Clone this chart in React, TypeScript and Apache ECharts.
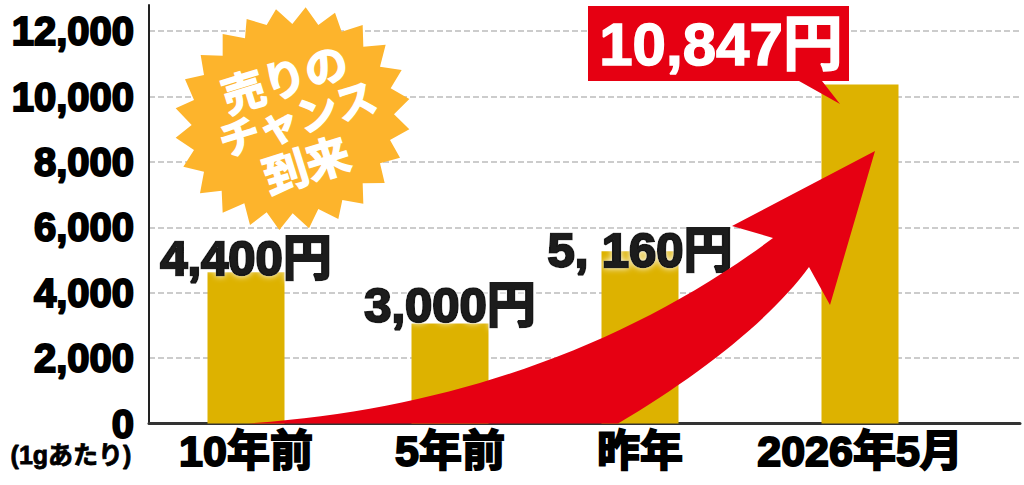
import React, { useEffect, useRef } from "react";
import * as echarts from "echarts";

// Category slots along a 0..871 horizontal scale (the bars are not evenly spaced in the picture)
const categories = ["10年前", "5年前", "昨年", "2026年5月"];
const slots = [97, 301, 491, 711];
const barValues = [4630, 3060, 5270, 10370];
const valueLabels = ["4,400円", "3,000円", "5, 160円", "10,847円"];
const yTicks = [0, 2000, 4000, 6000, 8000, 10000, 12000];
const unitNote = "(1gあたり)";
const burstLines = ["売りの", "チャンス", "到来"];

const FONT = '"Liberation Sans","Noto Sans CJK JP",sans-serif';
const RED = "#E60012";
const ORANGE = "#FDB42C";
const GOLD = "#DDB200";

const burst: number[][] = [
  [917,22],[955,75],[1005,38],[1025,95],[1088,75],[1090,140],[1157,134],[1140,200],[1205,210],[1172,265],
  [1228,297],[1182,343],[1228,388],[1170,420],[1200,473],[1140,490],[1154,549],[1088,550],[1090,611],[1027,600],
  [1015,657],[955,627],[927,685],[878,640],[838,690],[800,637],[750,675],[733,610],[668,638],[665,572],
  [600,580],[612,515],[550,500],[582,450],[527,413],[575,375],[527,325],[582,300],[555,238],[612,225],
  [602,165],[668,167],[668,102],[735,115],[740,57],[800,75],[828,28],[877,72],
].map(([x, y]) => [x / 3, y / 3]);

const arrowPath =
  "M875 151 L732 226 L773 238 C630 345 450 410 248 423.5 L618 423.5 C700 375 770 320 809 267 L830 305 Z";

echarts.graphic.registerShape("riseArrow", echarts.graphic.extendPath(arrowPath, {}) as any);

const labelOffsets = [[0, 10], [0, 6], [0, 23]];

export default function App() {
  const ref = useRef<HTMLDivElement>(null);
  useEffect(() => {
    const chart = echarts.init(ref.current!, null, { renderer: "svg" });
    chart.setOption({
      animation: false,
      backgroundColor: "#fff",
      textStyle: { fontFamily: FONT },
      grid: { left: 149, right: 4, top: 5, height: 418.6 },
      xAxis: {
        type: "value",
        min: 0,
        max: 871,
        splitLine: { show: false },
        axisTick: { show: false },
        axisLine: { show: true, lineStyle: { color: "#333", width: 3 } },
        axisLabel: {
          customValues: slots,
          formatter: (v: number) => categories[slots.indexOf(v)] ?? "",
          color: "#000",
          fontFamily: FONT,
          fontWeight: "bold",
          fontSize: 43,
          margin: 6,
          textBorderColor: "#000",
          textBorderWidth: 2,
        },
      },
      yAxis: {
        type: "value",
        min: 0,
        max: 12800,
        interval: 2000,
        axisTick: { show: false },
        axisLine: { show: true, lineStyle: { color: "#222", width: 2 } },
        splitLine: {
          show: true,
          showMaxLine: false,
          lineStyle: { color: "#ccc", width: 2, type: [6, 3] },
        },
        axisLabel: {
          customValues: yTicks,
          formatter: (v: number) => v.toLocaleString("en-US"),
          color: "#000",
          fontFamily: FONT,
          fontWeight: "bold",
          fontSize: 40,
          lineHeight: 30,
          padding: [0, 0, 3, 0],
          margin: 15,
          textBorderColor: "#000",
          textBorderWidth: 2,
        },
      },
      series: [
        {
          type: "bar",
          barWidth: 77,
          itemStyle: { color: GOLD },
          data: slots.map((s, i) => ({
            value: [s, barValues[i]],
            label:
              i < 3
                ? { show: true, offset: labelOffsets[i], formatter: valueLabels[i] }
                : { show: false },
          })),
          label: {
            position: "top",
            distance: 0,
            color: "#1a1a1a",
            fontFamily: FONT,
            fontWeight: "bold",
            fontSize: 49,
            textBorderColor: "#1a1a1a",
            textBorderWidth: 2.5,
            textShadowColor: "#fff",
            textShadowBlur: 6,
          },
        },
      ],
      graphic: [
        {
          type: "polygon",
          z: 10,
          shape: { points: burst },
          style: { fill: ORANGE },
        },
        ...burstLines.map((t, i) => ({
          type: "text",
          z: 11,
          x: [285, 298, 307][i],
          y: [80, 120, 166][i],
          rotation: 0.3,
          style: {
            text: t,
            fill: "#fff",
            font: `bold ${[43, 41, 44][i]}px ${FONT}`,
            align: "center",
            verticalAlign: "middle",
            stroke: "#fff",
            lineWidth: 1.5,
          },
        })),
        { type: "riseArrow", z: 10, style: { fill: RED } },
        {
          type: "polygon",
          z: 10,
          shape: { points: [[588, 6], [849, 6], [849, 81], [822, 81], [840, 104], [799, 81], [588, 81]] },
          style: { fill: RED },
        },
        {
          type: "text",
          z: 11,
          x: 721,
          y: 44,
          style: {
            text: valueLabels[3],
            fill: "#fff",
            font: `bold 60px ${FONT}`,
            align: "center",
            verticalAlign: "middle",
            stroke: "#fff",
            lineWidth: 1.5,
          },
        },
        {
          type: "text",
          z: 11,
          x: 71,
          y: 455,
          style: {
            text: unitNote,
            fill: "#000",
            font: `bold 25px ${FONT}`,
            align: "center",
            verticalAlign: "middle",
            stroke: "#000",
            lineWidth: 0.8,
          },
        },
      ],
    });
    return () => chart.dispose();
  }, []);
  return (
    <div
      ref={ref}
      style={{ position: "fixed", left: 0, top: 0, width: 1024, height: 485, background: "#fff" }}
    />
  );
}
